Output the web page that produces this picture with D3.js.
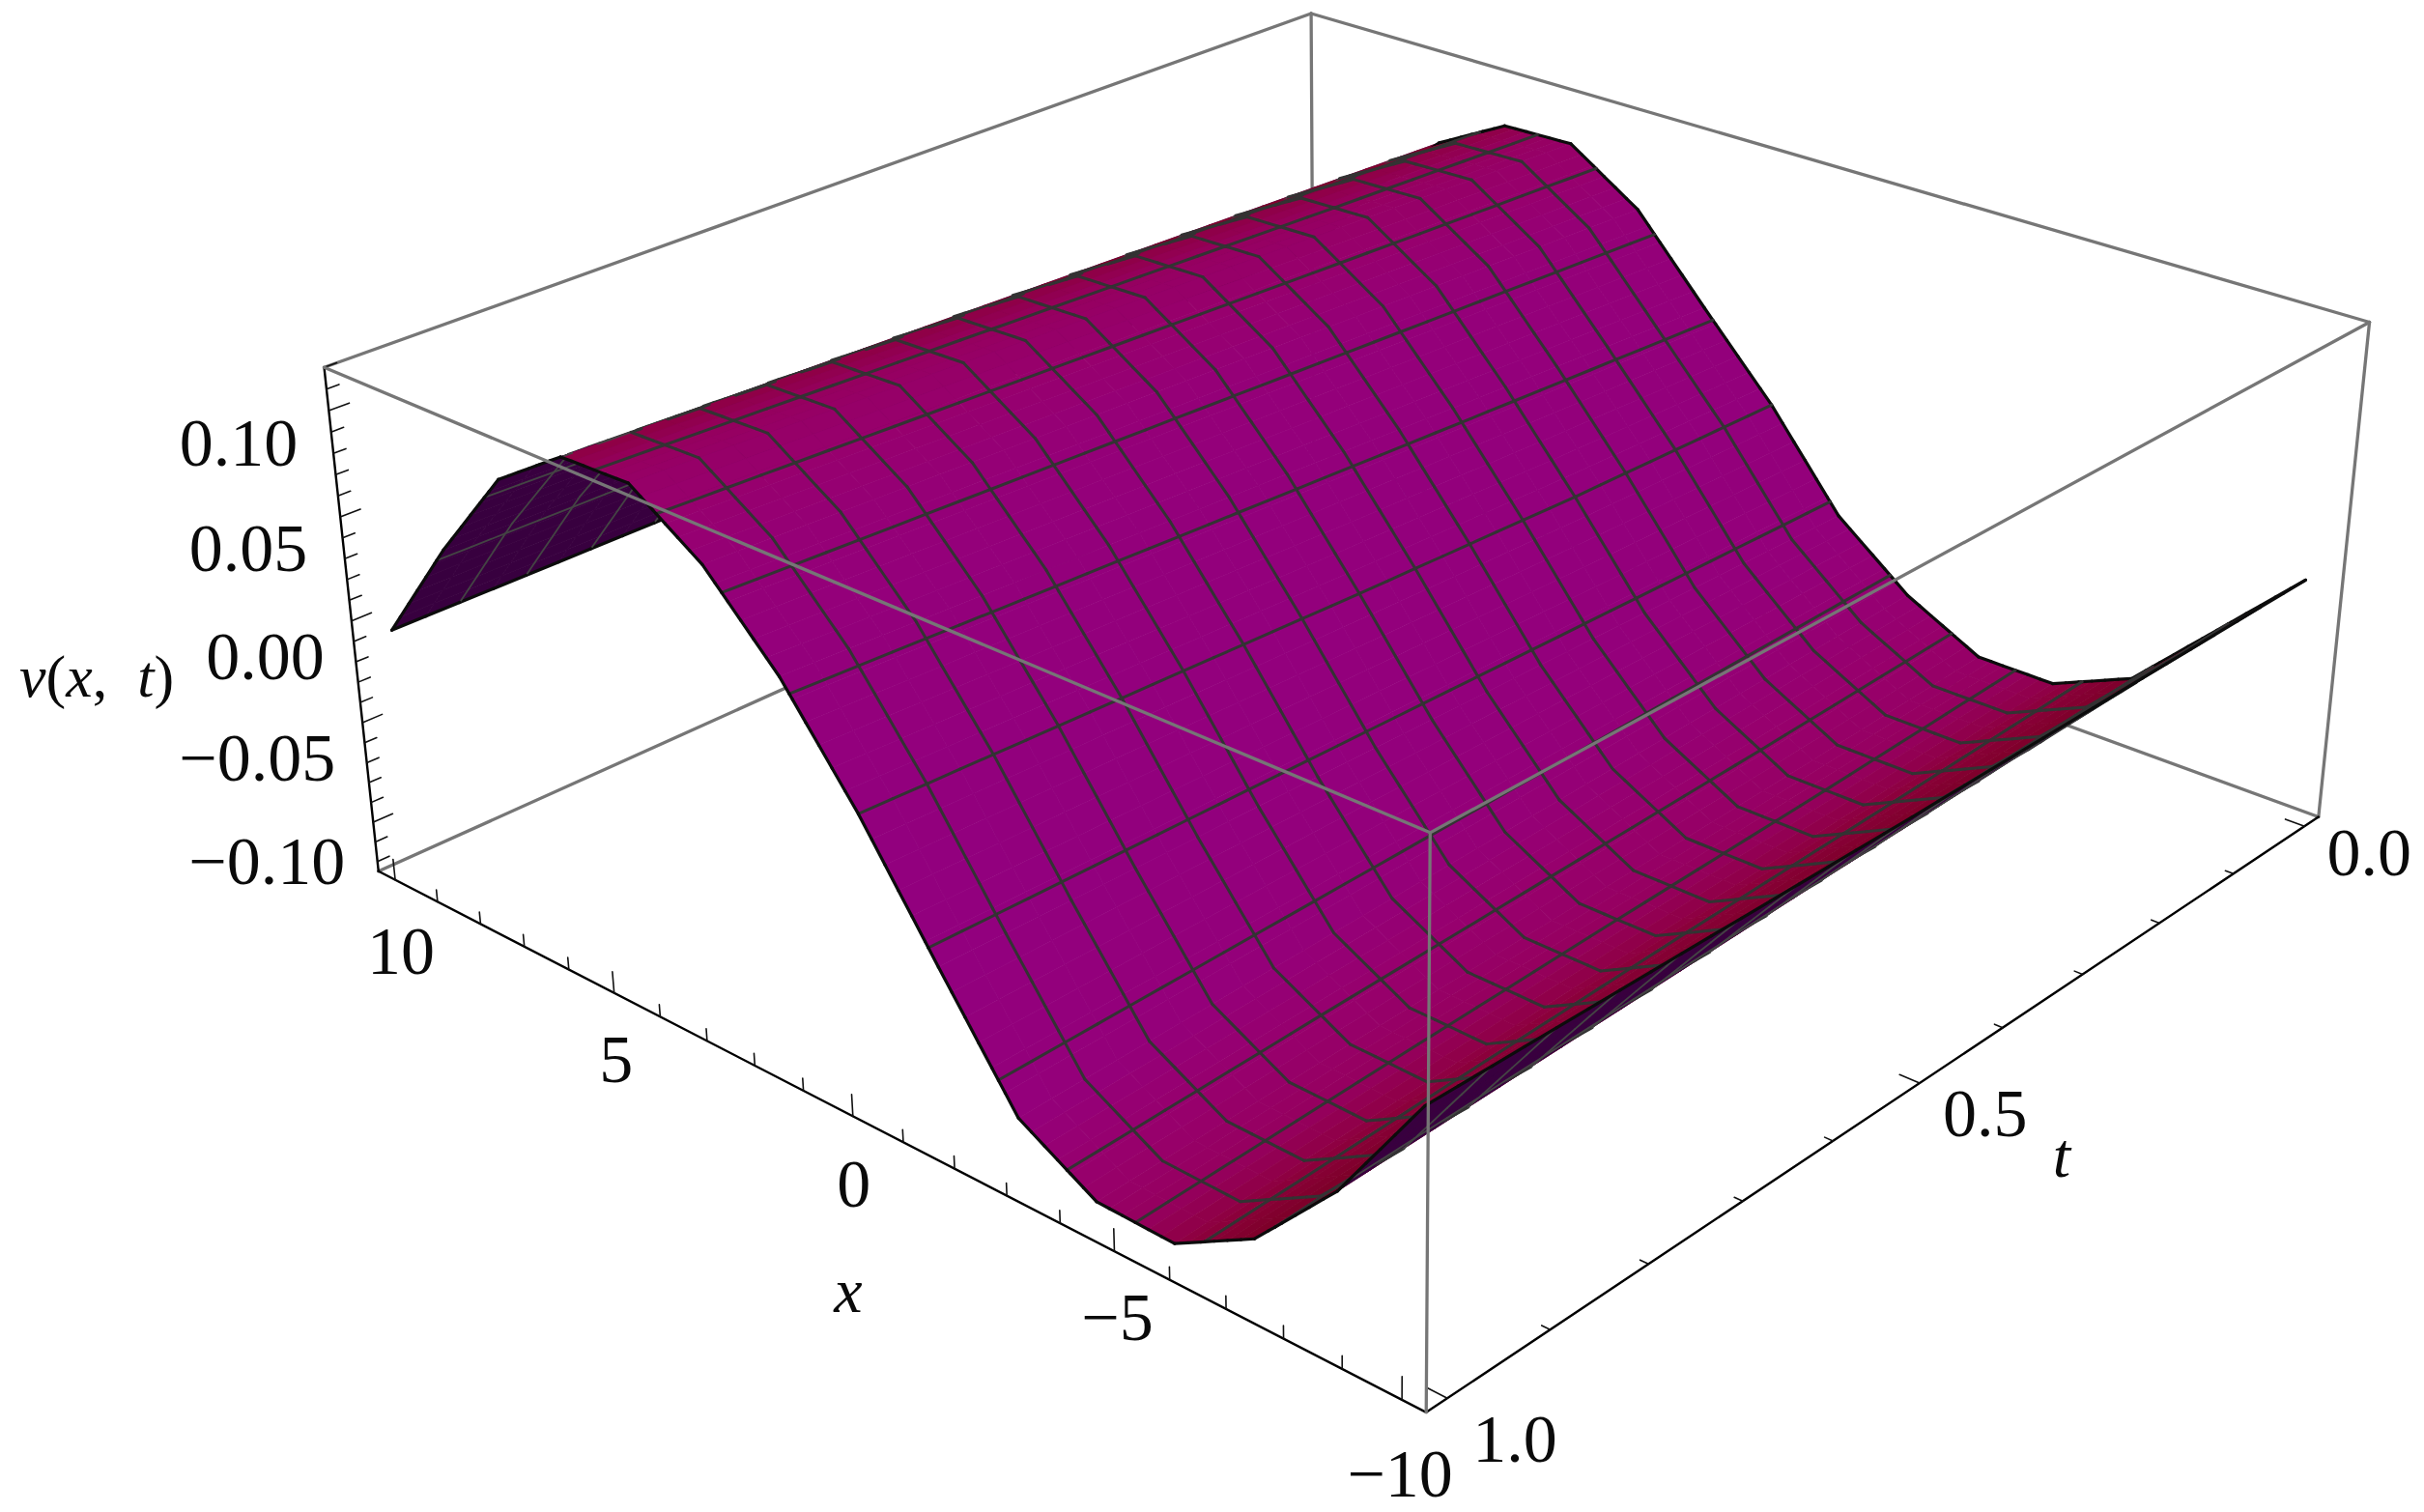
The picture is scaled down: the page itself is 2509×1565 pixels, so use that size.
<!DOCTYPE html>
<html><head><meta charset="utf-8">
<script src="https://cdn.jsdelivr.net/npm/d3@7/dist/d3.min.js"></script>
<style>html,body{margin:0;padding:0;background:#fff}svg{display:block}text{font-family:"Liberation Serif",serif;fill:#0a0a0a}</style>
</head><body><svg id="c" width="2509" height="1565"></svg>
<script>
// ---------- data ----------
const xNodes = [-10,-8.57,-7.14,-5.71,-4.29,-2.86,-1.43,0,1.43,2.86,4.29,5.71,7.14,8.57,10];
const tRows  = [0,0.25,0.5,0.75,1];
const vAtT000 = [-.004,-.043,-.082,-.099,-.099,-.080,-.051,-.005,.034,.074,.0975,.0965,.077,.042,-.002];
const vAtT025 = [-.004,-.046,-.085,-.104,-.104,-.084,-.049,-.003,.040,.079,.102,.101,.081,.043,-.003];
const vAtT050 = [-.004,-.049,-.088,-.108,-.108,-.088,-.047,.001,.046,.084,.107,.106,.085,.045,-.004];
const vAtT075 = [-.003,-.053,-.092,-.113,-.112,-.092,-.045,.006,.052,.089,.112,.111,.089,.046,-.005];
const vAtT100 = [-.002,-.057,-.097,-.118,-.117,-.096,-.043,.011,.058,.094,.117,.116,.093,.047,-.005];
const vGrid = [vAtT000,vAtT025,vAtT050,vAtT075,vAtT100];

const xDomain = [-10.4,10.4], tDomain = [-0.02,1.02], zDomain = [-0.125,0.12];
const xMajor = [-10,-5,0,5,10], xLabels = ["\u221210","\u22125","0","5","10"];
const tMajor = [0,0.5,1], tLabels = ["0.0","0.5","1.0"];
const zMajor = [-0.1,-0.05,0,0.05,0.1], zLabels = ["\u22120.10","\u22120.05","0.00","0.05","0.10"];
const xMinor = d3.range(-10,10.5,1), tMinor = d3.range(0,1.05,0.1), zMinor = d3.range(-12,12.5,1).map(d=>d/100);
const meshX = d3.range(1,16).map(k=>-10+1.25*k), meshT = d3.range(1,16).map(k=>k/16);

// ---------- camera: fitted to where the box corners fall in the frame ----------
const boxAnchors = [ // x,t,z (unit cube: x 0=-10.4, t 0=-0.02, z 0=bottom) -> pixel
 [1,1,1, 337,381],[1,1,0, 390,900],[1,0,1,1355,13],[1,0,0,1362,468],
 [0,1,1,1481,863],[0,1,0,1476,1462],[0,0,0,2399,845],[0,0,1,2453,333]];

function fitCamera(a){
  const A=[],b=[];
  a.forEach(([X,Y,Z,u,v])=>{u/=1000;v/=1000;
    A.push([X,Y,Z,1,0,0,0,0,-u*X,-u*Y,-u*Z]);b.push(u);
    A.push([0,0,0,0,X,Y,Z,1,-v*X,-v*Y,-v*Z]);b.push(v);});
  const n=11,M=d3.range(n).map(i=>{const r=d3.range(n+1).map(()=>0);
    A.forEach((row,k)=>{for(let j=0;j<n;j++)r[j]+=row[i]*row[j];r[n]+=row[i]*b[k];});return r;});
  for(let i=0;i<n;i++){let p=i;for(let k=i+1;k<n;k++)if(Math.abs(M[k][i])>Math.abs(M[p][i]))p=k;
    [M[i],M[p]]=[M[p],M[i]];
    for(let k=0;k<n;k++)if(k!==i){const f=M[k][i]/M[i][i];for(let j=i;j<=n;j++)M[k][j]-=f*M[i][j];}}
  const s=M.map((r,i)=>r[n]/r[i]);
  return [s.slice(0,4),s.slice(4,8),[s[8],s[9],s[10],1]];
}
const P = fitCamera(boxAnchors);
const sx=d3.scaleLinear().domain(xDomain).range([0,1]),
      st=d3.scaleLinear().domain(tDomain).range([0,1]),
      sz=d3.scaleLinear().domain(zDomain).range([0,1]);
function proj(x,t,z){const X=sx(x),Y=st(t),Z=sz(z);
  const h=r=>r[0]*X+r[1]*Y+r[2]*Z+r[3], w=h(P[2]);
  return {p:[1000*h(P[0])/w,1000*h(P[1])/w],w};}
const pt=(x,t,z)=>proj(x,t,z).p;
const farSign = Math.sign(proj(10.4,-0.02,zDomain[0]).w-proj(-10.4,1.02,zDomain[0]).w);
const depth=(x,t,z)=>farSign*proj(x,t,z).w;

// ---------- surface lookups ----------
function lookup(grid,x,t){
  let i=Math.min(d3.bisectRight(xNodes,x)-1,xNodes.length-2), j=Math.min(d3.bisectRight(tRows,t)-1,tRows.length-2);
  i=Math.max(i,0);j=Math.max(j,0);
  const a=(x-xNodes[i])/(xNodes[i+1]-xNodes[i]), b=(t-tRows[j])/(tRows[j+1]-tRows[j]);
  return (1-b)*((1-a)*grid[j][i]+a*grid[j][i+1])+b*((1-a)*grid[j+1][i]+a*grid[j+1][i+1]);
}
const slopeGrid = vGrid.map(r=>r.map((v,i)=>{const l=Math.max(i-1,0),h=Math.min(i+1,r.length-1);return (r[h]-r[l])/(xNodes[h]-xNodes[l]);}));
const v=(x,t)=>lookup(vGrid,x,t);

const shade=d3.scaleLinear().domain([-.035,-.02,-.01,0,.012,.025,.037])
  .range(["#700020","#7e002a","#8c003c","#95005e","#97006c","#94007a","#92007e"]).clamp(true);
const undersideColor="#38003f";

// ---------- refined parameter lines so mesh lines sit on cell edges ----------
const mids=xNodes.slice(1).flatMap((d,i)=>[1,2,3,4,5].map(f=>xNodes[i]+(d-xNodes[i])*f/6));
const xsAll=[...xNodes,...meshX,...mids].sort(d3.ascending).filter((d,i,a)=>i===0||d-a[i-1]>0.05);
if(xsAll[xsAll.length-1]!==10)xsAll.push(10);
const tsAll=d3.range(0,33).map(k=>k/32);

const items=[];
const line=d3.line();
const near=d=>Math.abs(d)<1e-6;
const testA=(a,b,c)=>(b[0]-a[0])*(c[1]-a[1])-(b[1]-a[1])*(c[0]-a[0]);
const refSign=Math.sign(testA(pt(0,.5,v(0,.5)),pt(1,.5,v(1,.5)),pt(0,.6,v(0,.6))));
function faces(x0,x1,t0,t1){
  const a=pt(x0,t0,v(x0,t0)),b=pt(x1,t0,v(x1,t0)),c=pt(x1,t1,v(x1,t1)),d=pt(x0,t1,v(x0,t1));
  return {a,b,c,d,front:Math.sign(testA(a,b,d)+testA(b,c,a))===refSign};
}
for(let i=0;i<xsAll.length-1;i++)for(let j=0;j<tsAll.length-1;j++){
  const x0=xsAll[i],x1=xsAll[i+1],t0=tsAll[j],t1=tsAll[j+1],xc=(x0+x1)/2,tc=(t0+t1)/2;
  const f=faces(x0,x1,t0,t1);
  const col=f.front?shade(lookup(slopeGrid,xc,tc)):undersideColor;
  items.push({z:depth(xc,tc,v(xc,tc)),d:line([f.a,f.b,f.c,f.d])+"Z",fill:col,stroke:col,sw:0.8});
}
const zRange=depth(10,0,0)-depth(-10,1,0), eps=zRange*0.03;
function addSeg(p,q,mid,stroke,sw){items.push({z:mid-eps,d:line([p,q]),fill:"none",stroke,sw});}
const meshStyle=(edge,front)=>edge?["#0c0c0c",3.2]:front?["#333333",3]:["#444444",1.8];
// constant-t lines
[0,...meshT,1].forEach(t=>{const edge=t===0||t===1;
  for(let i=0;i<xsAll.length-1;i++){const x0=xsAll[i],x1=xsAll[i+1],xm=(x0+x1)/2;
    const s=meshStyle(edge,faces(x0,x1,Math.max(t-.01,0),Math.min(t+.01,1)).front);
    addSeg(pt(x0,t,v(x0,t)),pt(x1,t,v(x1,t)),depth(xm,t,v(xm,t)),s[0],s[1]);}});
// constant-x lines
[-10,...meshX,10].forEach(x=>{const edge=near(Math.abs(x)-10);
  for(let j=0;j<tsAll.length-1;j++){const t0=tsAll[j],t1=tsAll[j+1],tm=(t0+t1)/2;
    const s=meshStyle(edge,faces(Math.max(x-.05,-10),Math.min(x+.05,10),t0,t1).front);
    addSeg(pt(x,t0,v(x,t0)),pt(x,t1,v(x,t1)),depth(x,tm,v(x,tm)),s[0],s[1]);}});
items.sort((a,b)=>d3.descending(a.z,b.z));

// ---------- draw ----------
const svg=d3.select("#c");
const [x0,x1]=xDomain,[t0,t1]=tDomain,[z0,z1]=zDomain;
const boxGray="#767676";
const seg=(g,a,b,col,w)=>g.append("path").attr("d",line([a,b])).attr("stroke",col).attr("stroke-width",w).attr("fill","none").attr("stroke-linecap","round");

const back=svg.append("g");
[[[x1,t0,z1],[x1,t0,z0]],[[x1,t0,z0],[x1,t1,z0]],[[x1,t0,z0],[x0,t0,z0]],
 [[x1,t1,z1],[x1,t0,z1]],[[x1,t0,z1],[x0,t0,z1]],[[x0,t0,z1],[x0,t0,z0]]]
 .forEach(([a,b])=>seg(back,pt(...a),pt(...b),boxGray,3.3));

// axes
const ax=svg.append("g");
seg(ax,pt(x1,t1,z1),pt(x1,t1,z0),"#000",2.4);
seg(ax,pt(x1,t1,z0),pt(x0,t1,z0),"#000",2.4);
seg(ax,pt(x0,t1,z0),pt(x0,t0,z0),"#000",2.4);
const isMaj=(arr,d)=>arr.some(m=>Math.abs(m-d)<1e-6);
xMinor.forEach(x=>{const m=isMaj(xMajor,x);seg(ax,pt(x,t1,z0),pt(x,t1,z0+(m?.0105:.006)),"#111",1.6);});
tMinor.forEach(t=>{const m=isMaj(tMajor,t);seg(ax,pt(x0,t,z0),pt(x0+(m?.34:.14),t,z0),"#111",1.6);});
zMinor.forEach(z=>{const m=isMaj(zMajor,z);seg(ax,pt(x1,t1,z),pt(x1,t1-(m?.018:.011),z),"#111",1.6);});

svg.append("g").selectAll("path").data(items).join("path")
  .attr("d",d=>d.d).attr("fill",d=>d.fill).attr("stroke",d=>d.stroke).attr("stroke-width",d=>d.sw)
  .attr("stroke-linejoin","round").attr("stroke-linecap","round");

const front=svg.append("g");
[[[x1,t1,z1],[x0,t1,z1]],[[x0,t1,z1],[x0,t0,z1]],[[x0,t1,z1],[x0,t1,z0]]]
 .forEach(([a,b])=>seg(front,pt(...a),pt(...b),boxGray,3.3));

// labels (pixel offsets from the projected tick)
const labels=svg.append("g").attr("font-size",70);
function lab(p,s,dx,dy,anchor){labels.append("text").attr("x",p[0]+dx).attr("y",p[1]+dy).attr("dy","0.34em").attr("text-anchor",anchor||"middle").text(s);}
const zOff=[-29,-28,-28,-34,-32], zDy=[40,36,37,32,33];
zMajor.forEach((z,i)=>lab(pt(x1,t1,z),zLabels[i],zOff[i],zDy[i],"end"));
const xOff=[[-2,76],[3,68],[1,70],[2,68],[6,73]];
xMajor.forEach((x,i)=>lab(pt(x,t1,z0),xLabels[i],xOff[i][0],xOff[i][1]));
const tOff=[[67,27],[68,31],[70,42]];
tMajor.forEach((t,i)=>lab(pt(x0,t,z0),tLabels[i],tOff[i][0],tOff[i][1]));
function it(el,parts){parts.forEach(([s,i])=>el.append("tspan").attr("font-style",i?"italic":"normal").text(s));}
const lv=labels.append("text").attr("x",20).attr("y",700).attr("dy","0.34em").attr("font-size",62).attr("xml:space","preserve");
it(lv,[["v",1],["(",0],["x",1],[",\u00a0\u00a0",0],["t",1],[")",0]]);
labels.append("text").attr("x",878).attr("y",1338).attr("dy","0.3em").attr("text-anchor","middle").attr("font-style","italic").attr("font-size",66).text("x");
labels.append("text").attr("x",2134).attr("y",1198).attr("dy","0.3em").attr("text-anchor","middle").attr("font-style","italic").attr("font-size",66).text("t");
</script></body></html>
